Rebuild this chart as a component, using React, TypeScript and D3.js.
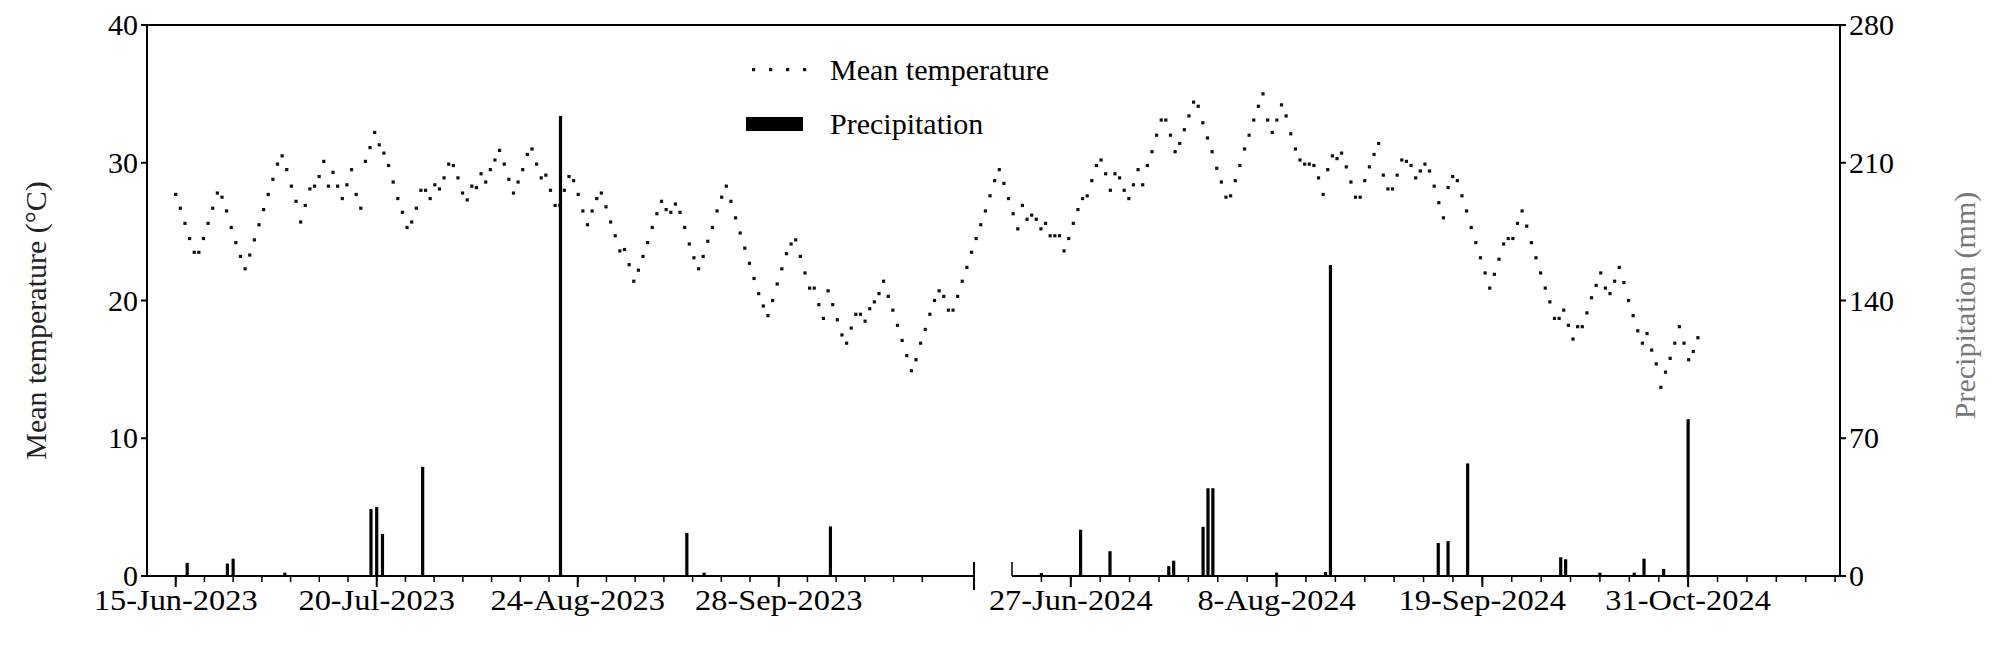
import React from 'react';
import * as d3 from 'd3';

// mean temperature (°C), daily, 15-Jun-2023 onwards then 2024 season (plotted in sequence)
const temp2023 = [
  27.7, 26.7, 25.6, 24.5, 23.5, 23.5, 24.5, 25.6, 26.7, 27.8, 27.5, 26.5, 25.3, 24.2, 23.2, 22.3, 23.3, 24.4, 25.5, 26.6,
  27.7, 28.8, 29.9, 30.5, 29.5, 28.3, 27.2, 25.7, 26.9, 28.1, 28.3, 29.0, 30.1, 28.3, 29.3, 28.3, 27.4, 28.4, 29.5, 27.7,
  26.7, 30.1, 31.1, 32.2, 31.3, 30.7, 29.8, 28.6, 27.4, 26.4, 25.3, 25.7, 26.7, 28.0, 28.0, 27.4, 28.4, 28.1, 28.9, 29.9,
  29.8, 28.9, 27.8, 27.3, 28.3, 28.2, 29.2, 28.6, 29.5, 30.2, 30.9, 29.9, 28.8, 27.8, 28.6, 29.5, 30.6, 31.0, 29.9, 28.9,
  29.1, 28.0, 26.9, 26.9, 28.0, 29.0, 28.7, 27.7, 26.5, 25.5, 26.5, 27.4, 27.8, 26.8, 25.7, 24.7, 23.6, 23.7, 22.6, 21.4,
  22.2, 23.2, 24.2, 25.3, 26.3, 27.2, 26.6, 26.4, 27.0, 26.4, 25.3, 24.1, 23.1, 22.3, 23.2, 24.3, 25.3, 26.5, 27.5, 28.3,
  27.2, 26.0, 24.9, 23.8, 22.7, 21.6, 20.5, 19.6, 18.9, 20.0, 21.2, 22.3, 23.4, 24.1, 24.4, 23.2, 22.0, 20.9, 20.9, 19.7,
  18.7, 20.7, 19.7, 18.6, 17.5, 16.9, 18.0, 19.0, 19.0, 18.5, 19.4, 19.9, 20.5, 21.4, 20.3, 19.3, 18.2, 17.1, 16.0, 14.9,
  15.7, 16.9, 17.9, 19.0, 20.0, 20.7, 20.3, 19.3, 19.3, 20.3, 21.4, 22.4, 23.5, 24.5, 25.5, 26.5,
];
const temp2024 = [
  27.6, 28.7, 29.5, 28.5, 27.4, 26.3, 25.2, 26.9, 25.9, 26.2, 25.9, 25.2, 25.6, 24.7, 24.7, 24.7, 23.6, 24.5, 25.6, 26.6,
  27.4, 27.6, 28.7, 29.8, 30.2, 29.2, 28.0, 29.2, 28.9, 28.0, 27.4, 28.4, 29.5, 28.4, 29.8, 30.8, 32.0, 33.1, 33.1, 32.0,
  30.8, 31.4, 32.4, 33.4, 34.4, 34.1, 32.9, 31.8, 30.8, 29.6, 28.6, 27.5, 27.6, 28.7, 29.8, 31.0, 32.0, 33.1, 34.1, 35.0,
  33.1, 32.2, 33.1, 34.2, 33.4, 32.1, 31.0, 30.2, 29.9, 29.9, 29.8, 28.9, 27.7, 29.5, 30.5, 30.3, 30.7, 29.7, 28.6, 27.5,
  27.5, 28.7, 29.7, 30.6, 31.4, 29.1, 28.1, 28.1, 29.1, 30.2, 30.1, 29.8, 28.9, 29.4, 29.9, 29.4, 28.3, 27.1, 26.0, 28.2,
  29.0, 28.7, 27.6, 26.5, 25.3, 24.2, 23.1, 22.0, 20.9, 21.9, 23.0, 24.1, 24.5, 24.5, 25.6, 26.5, 25.4, 24.2, 23.1, 22.0,
  20.9, 19.9, 18.7, 18.7, 19.3, 18.2, 17.2, 18.1, 18.1, 19.1, 20.2, 21.1, 22.0, 20.9, 20.5, 21.4, 22.4, 21.3, 20.0, 18.9,
  17.8, 16.9, 17.6, 16.4, 15.4, 13.7, 14.8, 15.8, 16.9, 18.1, 16.9, 15.7, 16.3, 17.3,
];
const tempValues = [...temp2023, ...temp2024];

// precipitation (mm)
const precip2023Dates = ['2023-06-17', '2023-06-24', '2023-06-25', '2023-07-04', '2023-07-19', '2023-07-20', '2023-07-21', '2023-07-28', '2023-08-21', '2023-09-12', '2023-09-15', '2023-10-07'];
const precip2023Values = [6.7, 6.3, 8.8, 1.7, 34, 35, 21.4, 55.5, 233.8, 21.9, 1.7, 25.2];
const precip2024Dates = ['2024-06-21', '2024-06-29', '2024-07-05', '2024-07-17', '2024-07-18', '2024-07-24', '2024-07-25', '2024-07-26', '2024-08-08', '2024-08-18', '2024-08-19', '2024-09-10', '2024-09-12', '2024-09-16', '2024-10-05', '2024-10-06', '2024-10-13', '2024-10-20', '2024-10-22', '2024-10-26', '2024-10-31'];
const precip2024Values = [1.5, 23.5, 12.6, 5, 7.8, 25, 44.6, 44.6, 1.7, 2, 158, 16.8, 17.7, 57.2, 9.5, 8.5, 1.7, 1.7, 8.8, 3.6, 79.7];

const tickLabels2023 = ['2023-06-15', '2023-07-20', '2023-08-24', '2023-09-28'];
const tickLabels2024 = ['2024-06-27', '2024-08-08', '2024-09-19', '2024-10-31'];
const tempTicks = [0, 10, 20, 30, 40];
const precipTicks = [0, 70, 140, 210, 280];

const W = 1993;
const H = 645;
const left = 147;
const right = 1840;
const top = 25;
const bottom = 576;
const seg1End = 974;
const seg2Start = 1012;
const FONT = "'Liberation Serif', 'Times New Roman', serif";

const parse = d3.utcParse('%Y-%m-%d');
const fmt = d3.utcFormat('%-d-%b-%Y');

export default function App() {
  const x1 = d3.scaleUtc().domain([parse('2023-06-10')!, parse('2023-11-01')!]).range([left, seg1End]);
  const x2 = d3.scaleUtc().domain([parse('2024-06-15')!, parse('2024-12-01')!]).range([seg2Start, right]);
  const yT = d3.scaleLinear().domain([0, 40]).range([bottom, top]);
  const yP = d3.scaleLinear().domain([0, 280]).range([bottom, top]);
  const xIdx = d3.scaleLinear()
    .domain([0, tempValues.length - 1])
    .range([x1(parse('2023-06-15')!), x2(parse('2024-11-02')!)]);

  const minor1 = d3.range(0, 28).map(i => d3.utcDay.offset(parse('2023-06-15')!, i * 5 - 5));
  const minor2 = d3.range(0, 29).map(i => d3.utcDay.offset(parse('2024-06-15')!, i * 6));

  const bars = [
    ...precip2023Dates.map((d, i) => ({ x: x1(parse(d)!), v: precip2023Values[i] })),
    ...precip2024Dates.map((d, i) => ({ x: x2(parse(d)!), v: precip2024Values[i] })),
  ];

  const tick = (t: string, x: number) => (
    <g key={t} transform={`translate(${x},0)`}>
      <line y1={bottom} y2={bottom + 11} stroke="#000" strokeWidth={2} />
      <text y={bottom + 34} textAnchor="middle" fontSize={30} transform="scale(1.08,1)">{fmt(parse(t)!)}</text>
    </g>
  );

  return (
    <svg width={W} height={H} style={{ position: 'absolute', left: 0, top: 0, background: '#fff', fontFamily: FONT }}>
      {/* frame */}
      <line x1={left} x2={right} y1={top} y2={top} stroke="#000" strokeWidth={2} />
      <line x1={left} x2={left} y1={top} y2={bottom} stroke="#000" strokeWidth={2} />
      <line x1={right} x2={right} y1={top} y2={bottom} stroke="#000" strokeWidth={2} />
      <line x1={left} x2={seg1End} y1={bottom} y2={bottom} stroke="#000" strokeWidth={2} />
      <line x1={seg2Start} x2={right} y1={bottom} y2={bottom} stroke="#000" strokeWidth={2} />
      <line x1={seg1End} x2={seg1End} y1={bottom - 14} y2={bottom + 14} stroke="#000" strokeWidth={2} />
      <line x1={seg2Start} x2={seg2Start} y1={bottom - 14} y2={bottom} stroke="#000" strokeWidth={1.5} />

      {minor1.filter(d => x1(d) > left && x1(d) < seg1End).map((d, i) => (
        <line key={'m1' + i} x1={x1(d)} x2={x1(d)} y1={bottom} y2={bottom + 6} stroke="#000" strokeWidth={1.5} />
      ))}
      {minor2.filter(d => x2(d) > seg2Start && x2(d) < right).map((d, i) => (
        <line key={'m2' + i} x1={x2(d)} x2={x2(d)} y1={bottom} y2={bottom + 6} stroke="#000" strokeWidth={1.5} />
      ))}
      {tickLabels2023.map(t => tick(t, x1(parse(t)!)))}
      {tickLabels2024.map(t => tick(t, x2(parse(t)!)))}

      {tempTicks.map(t => (
        <g key={'t' + t}>
          <line x1={left - 6} x2={left} y1={yT(t)} y2={yT(t)} stroke="#000" strokeWidth={2} />
          <text x={left - 9} y={yT(t) + 10} textAnchor="end" fontSize={30}>{t}</text>
        </g>
      ))}
      {precipTicks.map(t => (
        <g key={'p' + t}>
          <line x1={right} x2={right + 6} y1={yP(t)} y2={yP(t)} stroke="#000" strokeWidth={2} />
          <text x={right + 9} y={yP(t) + 10} textAnchor="start" fontSize={30}>{t}</text>
        </g>
      ))}
      <text transform={`translate(46,${(top + bottom) / 2 + 20}) rotate(-90)`} textAnchor="middle" fontSize={30} fill="#222">
        Mean temperature (°C)
      </text>
      <text transform={`translate(1975,${(top + bottom) / 2 + 5}) rotate(-90)`} textAnchor="middle" fontSize={30} fill="#777">
        Precipitation (mm)
      </text>

      {bars.map((b, i) => (
        <rect key={'b' + i} x={b.x - 1.6} width={3.2} y={yP(b.v)} height={bottom - yP(b.v)} fill="#000" />
      ))}

      {tempValues.map((v, i) => (
        <rect key={'d' + i} x={xIdx(i) - 1.6} y={yT(v) - 1.6} width={3.2} height={3.2} fill="#111" />
      ))}

      {d3.range(4).map(i => (
        <rect key={'l' + i} x={752 + i * 17} y={68} width={3.2} height={3.2} fill="#111" />
      ))}
      <text x={830} y={80} fontSize={30} transform="scale(1.0,1)">Mean temperature</text>
      <rect x={746} y={117} width={57} height={14} fill="#000" />
      <text x={830} y={134} fontSize={30}>Precipitation</text>
    </svg>
  );
}
